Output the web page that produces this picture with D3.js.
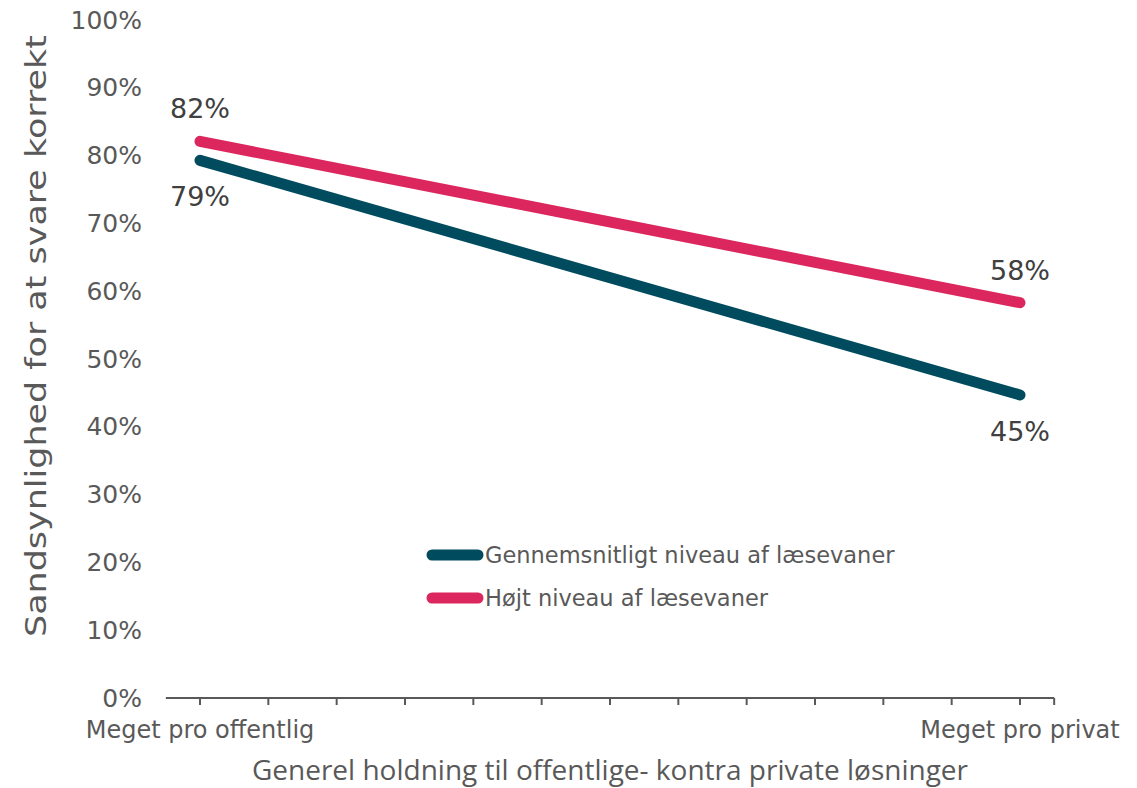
<!DOCTYPE html>
<html>
<head>
<meta charset="utf-8">
<script src="https://cdn.jsdelivr.net/npm/d3@7"></script>
<style>
  body { margin: 0; background: #fff; }
  svg text { font-family: Verdana, "DejaVu Sans", sans-serif; }
  .title { font-family: "Open Sans", "Noto Sans", sans-serif !important; fill: #595959; }
</style>
</head>
<body>
<div class="container"></div>
<script>
var w = 1137;
var h = 788;

// data
var categories = ["Meget pro offentlig", "", "", "", "", "", "", "", "", "", "", "", "Meget pro privat"];
var seriesNames = ["Gennemsnitligt niveau af læsevaner", "Højt niveau af læsevaner"];
var avgValues = [0.793, 0.447];   // first and last category
var highValues = [0.821, 0.583];
var valueLabels = [["79%", "45%"], ["82%", "58%"]];
var yTicks = [0, 0.1, 0.2, 0.3, 0.4, 0.5, 0.6, 0.7, 0.8, 0.9, 1.0];
var colors = ["#004C5E", "#DC275E"];

var svg = d3.select('.container')
  .append('svg')
  .attr('width', w)
  .attr('height', h);

var xScale = d3.scaleLinear()
  .domain([0, categories.length - 1])
  .range([200, 1020]);

var yScale = d3.scaleLinear()
  .domain([0, 1])
  .range([698, 20]);

// y axis (labels only)
var yAxis = d3.axisLeft(yScale)
  .tickValues(yTicks)
  .tickFormat(d3.format(".0%"))
  .tickSize(0)
  .tickPadding(0);

var yAxisGroup = svg.append('g')
  .attr('transform', 'translate(142, 0)')
  .call(yAxis);
yAxisGroup.select('.domain').remove();
yAxisGroup.selectAll('text')
  .style('font-size', '25px')
  .style('fill', '#595959');

// x axis
var xg = svg.append('g');
xg.append('line')
  .attr('x1', xScale(-0.5))
  .attr('x2', xScale(categories.length - 0.5))
  .attr('y1', 698).attr('y2', 698)
  .style('stroke', '#595959')
  .style('stroke-width', 2);

var tickPos = d3.range(categories.length).concat([categories.length - 0.5]);
xg.selectAll('.tick')
  .data(tickPos)
  .enter()
  .append('line')
  .attr('x1', d => xScale(d))
  .attr('x2', d => xScale(d))
  .attr('y1', 698).attr('y2', 705)
  .style('stroke', '#595959')
  .style('stroke-width', 2);

xg.selectAll('.xlabel')
  .data(categories)
  .enter()
  .append('text')
  .attr('x', (d, i) => xScale(i))
  .attr('y', 738)
  .attr('text-anchor', 'middle')
  .style('font-size', '24px')
  .style('fill', '#595959')
  .text(d => d);

// axis titles
svg.append('text')
  .attr('class', 'title')
  .attr('x', 610)
  .attr('y', 780)
  .attr('text-anchor', 'middle')
  .style('font-size', '28px')
  .text("Generel holdning til offentlige- kontra private løsninger");

svg.append('text')
  .attr('transform', 'translate(46, 336) rotate(-90)')
  .attr('text-anchor', 'middle')
  .attr('textLength', 602)
  .attr('lengthAdjust', 'spacingAndGlyphs')
  .style('font-size', '29px')
  .style('fill', '#595959')
  .text("Sandsynlighed for at svare korrekt");

// lines
var series = [avgValues, highValues];
var line = d3.line()
  .x((d, i) => xScale(i === 0 ? 0 : categories.length - 1))
  .y(d => yScale(d));

svg.selectAll('.serie')
  .data(series)
  .enter()
  .append('path')
  .attr('d', d => line(d))
  .style('fill', 'none')
  .style('stroke', (d, i) => colors[i])
  .style('stroke-width', 11)
  .style('stroke-linecap', 'round');

// value labels: avg below, high above
var labelData = [];
series.forEach(function(s, si) {
  s.forEach(function(v, j) {
    labelData.push({ v: v, x: j === 0 ? 0 : categories.length - 1, t: valueLabels[si][j], above: si === 1 });
  });
});
svg.selectAll('.vlabel')
  .data(labelData)
  .enter()
  .append('text')
  .attr('x', d => xScale(d.x))
  .attr('y', d => yScale(d.v) + (d.above ? -23 : 46))
  .attr('text-anchor', 'middle')
  .style('font-size', '27px')
  .style('fill', '#404040')
  .text(d => d.t);

// legend
var legend = svg.append('g').attr('id', 'legend');
seriesNames.forEach(function(name, i) {
  var y = 555 + i * 43;
  legend.append('line')
    .attr('x1', 432).attr('x2', 478)
    .attr('y1', y).attr('y2', y)
    .style('stroke', colors[i])
    .style('stroke-width', 11)
    .style('stroke-linecap', 'round');
  legend.append('text')
    .attr('x', 485)
    .attr('y', y + 8)
    .style('font-size', '22.5px')
    .style('fill', '#595959')
    .text(name);
});
</script>
</body>
</html>
